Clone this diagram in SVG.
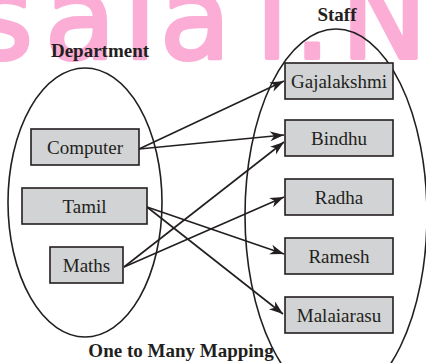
<svg xmlns="http://www.w3.org/2000/svg" width="426" height="363" viewBox="0 0 426 363">
<style>
.wm{font-family:"DejaVu Sans","Open Sans",sans-serif;font-size:115px;fill:#fbadd6;stroke:#fbadd6;stroke-width:4;stroke-linejoin:round}
.set{fill:none;stroke:#231f20;stroke-width:1.6}
.box{fill:#d1d3d4;stroke:#231f20;stroke-width:1.6}
.lbl{font-family:"Liberation Serif","Times New Roman",serif;font-size:19px;fill:#231f20;text-anchor:middle}
.ttl{font-family:"Liberation Serif","Times New Roman",serif;font-size:19px;font-weight:bold;fill:#231f20;text-anchor:middle}
.edge{fill:none;stroke:#231f20;stroke-width:1.6}
</style>
<defs>
<marker id="arr" markerUnits="userSpaceOnUse" markerWidth="16" markerHeight="12" refX="14" refY="5" orient="auto">
<path d="M0,0 L14,5 L0,10 L4,5 z" fill="#231f20"/>
</marker>
</defs>
<rect width="426" height="363" fill="#ffffff"/>
<text class="wm" x="-27 45 124 160 256 294 341" y="58">salai.N</text>

<g id="dept-set"><ellipse class="set" cx="85" cy="202.5" rx="77" ry="134.5"/></g>
<g id="staff-set"><ellipse class="set" cx="336" cy="215" rx="91" ry="186"/></g>

<text class="ttl" x="100" y="57">Department</text>
<text class="ttl" x="337" y="21">Staff</text>
<text class="ttl" x="181" y="357">One to Many Mapping</text>

<g id="connectors">
<line class="edge" x1="139" y1="149" x2="284" y2="81" marker-end="url(#arr)"/>
<line class="edge" x1="139" y1="149" x2="284" y2="135" marker-end="url(#arr)"/>
<line class="edge" x1="124" y1="267" x2="284" y2="142" marker-end="url(#arr)"/>
<line class="edge" x1="124" y1="267" x2="284" y2="197" marker-end="url(#arr)"/>
<line class="edge" x1="147" y1="207" x2="284" y2="254" marker-end="url(#arr)"/>
<line class="edge" x1="147" y1="207" x2="283" y2="314" marker-end="url(#arr)"/>
</g>

<g id="computer"><rect class="box" x="31" y="129" width="108" height="36"/><text class="lbl" x="85" y="154">Computer</text></g>
<g id="tamil"><rect class="box" x="22" y="188" width="125" height="36"/><text class="lbl" x="84.5" y="213">Tamil</text></g>
<g id="maths"><rect class="box" x="50" y="247" width="73" height="36"/><text class="lbl" x="86.5" y="272">Maths</text></g>

<g id="gajalakshmi"><rect class="box" x="285" y="63" width="108" height="36"/><text class="lbl" x="339" y="88">Gajalakshmi</text></g>
<g id="bindhu"><rect class="box" x="285" y="120" width="108" height="36"/><text class="lbl" x="339" y="145">Bindhu</text></g>
<g id="radha"><rect class="box" x="285" y="179" width="108" height="36"/><text class="lbl" x="339" y="204">Radha</text></g>
<g id="ramesh"><rect class="box" x="285" y="238" width="108" height="36"/><text class="lbl" x="339" y="263">Ramesh</text></g>
<g id="malaiarasu"><rect class="box" x="285" y="297" width="108" height="36"/><text class="lbl" x="339" y="322">Malaiarasu</text></g>
</svg>
